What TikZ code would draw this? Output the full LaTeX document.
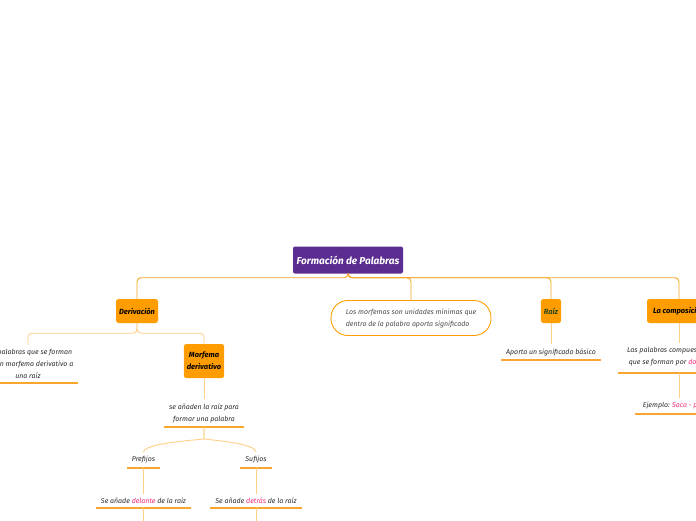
\documentclass[tikz,border=0pt]{standalone}
\usepackage{fontspec}
\setmainfont{Fira Sans}
\usetikzlibrary{calc,positioning}
\definecolor{lila}{HTML}{5C2D91}
\definecolor{naranja}{HTML}{FF9C00}
\definecolor{linea}{HTML}{F5A623}
\definecolor{lineaclara}{HTML}{FFCF85}
\definecolor{subrayado}{HTML}{F7A730}
\definecolor{rosa}{HTML}{F0287A}
\definecolor{texto}{HTML}{2B2B2B}
\definecolor{verde}{HTML}{2F4A1A}

\begin{document}
\begin{tikzpicture}[x=1pt,y=-1pt, font=\fontsize{7}{12}\selectfont\itshape,
    tema/.style={fill=lila, text=white, rounded corners=2pt, font=\fontsize{10}{11}\selectfont\bfseries\itshape, minimum height=27pt, minimum width=110pt, inner sep=3pt},
    rama/.style={fill=naranja, text=black, rounded corners=2.5pt, font=\fontsize{7.5}{12}\selectfont\bfseries\itshape, minimum height=24pt, inner xsep=3pt, align=center},
    nota/.style={text=texto, align=center, inner xsep=5pt, inner ysep=4pt, append after command={(\tikzlastnode.south west) edge[draw=subrayado, line width=1.8pt] (\tikzlastnode.south east)}},
    con/.style={draw=linea, line width=0.9pt, rounded corners=4pt},
    conclaro/.style={draw=lineaclara, line width=0.9pt, rounded corners=4pt}]
  \path[use as bounding box, clip] (0,0) rectangle (696,520);
  \node[tema] (raiz0) at (348,260) {Formación de Palabras};
  \node[rama] (der) at (137,311) {Derivación};
  \node[draw=naranja, line width=0.9pt, rounded corners=17pt, minimum width=160pt, minimum height=35pt, align=left, text=texto!85] (morf) at (411,318) {Los morfemas son unidades mínimas que\\dentro de la palabra aporta significado};
  \node[rama, text=verde] (raiz) at (551,311) {Raíz};
  \node[rama, minimum width=64pt] (comp) at (679,311) {La composición};
  % derivacion
  \node[nota] (defder) at (28,364) {Son palabras que se forman\\con un morfema derivativo a\\una raíz};
  \node[rama, minimum height=34pt] (mder) at (204,361) {Morfema\\derivativo};
  \node[nota] (anad) at (204,413) {se añaden la raíz para\\formar una palabra};
  \node[nota] (pre) at (143.5,460) {Prefijos};
  \node[nota] (suf) at (256,460) {Sufijos};
  \node[nota] (del) at (143.5,501) {Se añade \textcolor{rosa}{delante} de la raíz};
  \node[nota] (det) at (256,501) {Se añade \textcolor{rosa}{detrás} de la raíz};
  \coordinate (fin1) at (143.5,530);
  \coordinate (fin2) at (256,530);
  % raiz y composicion
  \node[nota, inner xsep=9pt] (comps) at (679,358) {Las palabras compuestas son las\\que se forman por \textcolor{rosa}{dos} \textcolor{rosa}{palabras}\strut};
  \node[nota] (apo) at (551,352) {Aporta un significado básico};
  \node[nota, inner xsep=8pt] (ejem) at (679,406) {Ejemplo: \textcolor{rosa}{Saca - puntas}};
  \foreach \n in {der,morf,raiz,comp}{\draw[con] (raiz0.south) -- ++(0,4) -| (\n.north);}
  \foreach \n in {defder,mder}{\draw[conclaro] (der.south) -- ++(0,10) -| (\n.north);}
  \foreach \n in {pre,suf}{\draw[conclaro] (anad.south) -- ++(0,8) .. controls +(0,5) and +(0,-10) .. (\n.north);}
  \foreach \a/\b in {mder/anad,pre/del,suf/det,del/fin1,det/fin2,raiz/apo,comp/comps,comps/ejem}{\draw[conclaro] (\a.south) -- (\b.north);}
\end{tikzpicture}
\end{document}
